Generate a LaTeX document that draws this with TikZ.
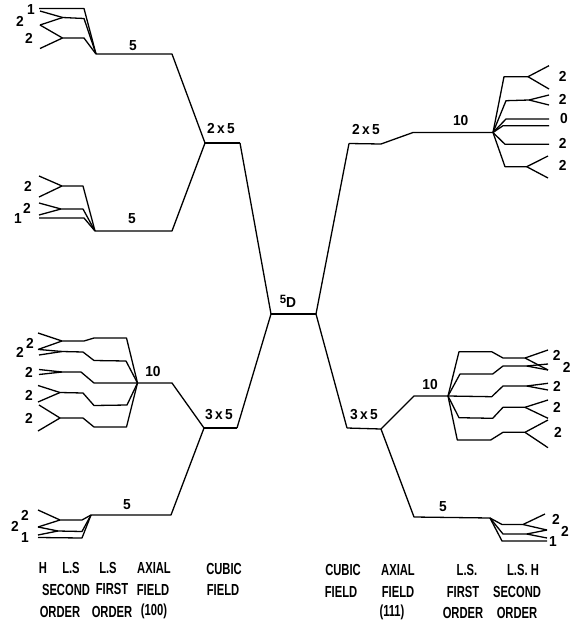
\documentclass[tikz,border=0pt]{standalone}
\usepackage{fontspec}
\usepackage{tikz}
\newfontfamily\handfont[FakeStretch=0.7]{Liberation Sans Bold}
\newfontfamily\numfont[FakeStretch=0.95]{Liberation Sans Bold}

\begin{document}
\begin{tikzpicture}[
    x=1pt, y=-1pt,
    level/.style={line width=1.3pt, black, line join=round},
    num/.style={inner sep=0pt, font=\numfont\fontsize{14.5}{14.5}\selectfont},
    captext/.style={inner sep=0pt, font=\handfont\fontsize{16}{16}\selectfont}
]
\useasboundingbox (0,0) rectangle (571,622);

% Free ion and cubic levels
\coordinate (dL) at (271,314);
\coordinate (dR) at (316,314);
\coordinate (cubATL) at (205,143);
\coordinate (cubATR) at (240,143);
\coordinate (cubBTL) at (349,143.5);
\coordinate (cubBTR) at (381,144);
\coordinate (cubALL) at (204,428);
\coordinate (cubALR) at (237,428);
\coordinate (cubBLL) at (347,428);
\coordinate (cubBLR) at (381,429);

% Axial levels and the fan points
\coordinate (axTLa) at (172,54);
\coordinate (fanTL) at (96,54);
\coordinate (axTLb) at (172,231);
\coordinate (fanML) at (95,231);
\coordinate (axLLa) at (172,383);
\coordinate (fanLL) at (137.5,383);
\coordinate (axLLb) at (171,515);
\coordinate (fanBL) at (91,515);
\coordinate (axTR) at (413,132.5);
\coordinate (fanTR) at (493,132.5);
\coordinate (axLRa) at (414,396);
\coordinate (fanLR) at (448,396);
\coordinate (axLRb) at (414,517);
\coordinate (fanBR) at (490,518);

% Main tree
\draw[level] (dL) -- (dR);
\draw[level] (cubATR) -- (dL);
\draw[level] (cubALR) -- (dL);
\draw[level] (cubBTL) -- (dR);
\draw[level] (cubBLL) -- (dR);
\draw[level] (cubATL) -- (cubATR);
\draw[level] (cubBTL) -- (cubBTR);
\draw[level] (cubALL) -- (cubALR);
\draw[level] (cubBLL) -- (cubBLR);
\draw[level] (fanTL) -- (axTLa) -- (cubATL);
\draw[level] (fanML) -- (axTLb) -- (cubATL);
\draw[level] (fanLL) -- (axLLa) -- (cubALL);
\draw[level] (fanBL) -- (axLLb) -- (cubALL);
\draw[level] (cubBTR) -- (axTR) -- (fanTR);
\draw[level] (cubBLR) -- (axLRa) -- (fanLR);
\draw[level] (cubBLR) -- (axLRb) -- (fanBR);

% Fans: three knees, stem end, upper leaf, lower leaf
\foreach \n/\f/\ka/\kb/\ma/\mb/\ja/\jb/\sa/\sb/\ua/\ub/\da/\db in {
    a1/fanTL/84/8.5/84/8.5/84/8.5/84/8.5/39/8.5/39/8.5,
    a2/fanTL/84/18.5/84/18.5/84/18.5/62.7/17.5/40/11/40/25,
    a3/fanTL/84/38/84/38/84/38/62.5/38/40/25/40/48.5,
    b1/fanML/83/186/83/186/83/186/62/186/39/176/39/197,
    b2/fanML/83/209/83/209/83/209/61/209/39/203/39/215,
    b3/fanML/84/218/84/218/84/218/39/218/39/218/39/218,
    c1/fanLL/126.5/338/94/338/84/341/62/341/38/333/38/349.5,
    c2/fanLL/126/361/94/360.5/83/352/62/351.5/39/349.5/39/355,
    c3/fanLL/94/383/94/383/81/372/62/372/39/369.5/39/374.5,
    c4/fanLL/127/405/94/405.5/83/393/60/392.5/38/385.5/38/402,
    c5/fanLL/126.5/427/94/427/83/418/60/418/39/405/38/431,
    d1/fanBL/82/520/82/520/82/520/60/520/38/510/38/527,
    d2/fanBL/82/531.5/82/531.5/82/531.5/58/531/38/527/38/535,
    d3/fanBL/82/538/82/538/82/538/38/537.5/38/537.5/38/537.5,
    e1/fanTR/504/76.7/504/76.7/504/76.7/528/76.7/549/65.7/549/89,
    e2/fanTR/506/100.7/506/100.7/506/100.7/529/100/549/95/549/105,
    e3/fanTR/506/119/506/119/506/119/549/119/549/119/549/119,
    e4/fanTR/503/125.7/503/125.7/503/125.7/549/125.7/549/125.7/549/125.7,
    e5/fanTR/505/144.3/505/144.3/505/144.3/549/144.3/549/144.3/549/144.3,
    e6/fanTR/505/166.7/505/166.7/505/166.7/526.7/166.7/548/156/548/178,
    f1/fanLR/459/351.7/491.7/351.7/503/358/525/358/548/350/548/370,
    f2/fanLR/460/374/492.7/374/503/366/526.7/366/548/364/548/370,
    f3/fanLR/491.7/396.7/491.7/396.7/503/386/526.7/386/548/383.3/548/390,
    f4/fanLR/459/417.7/492.7/418.3/503/407.3/525/407.3/548/400/548/418.3,
    f5/fanLR/457.3/440/490.7/440/503/432.3/525/432.3/548/420/548/447.7,
    g1/fanBR/502/524.5/502/524.5/502/524.5/523/524.5/545/514/547/530,
    g2/fanBR/503/534/503/534/503/534/526.7/534/547/530/547/538,
    g3/fanBR/502/541/502/541/502/541/547/541/547/541/547/541}
{
    \coordinate (\n k) at (\ka,\kb);
    \coordinate (\n m) at (\ma,\mb);
    \coordinate (\n j) at (\ja,\jb);
    \coordinate (\n s) at (\sa,\sb);
    \coordinate (\n u) at (\ua,\ub);
    \coordinate (\n d) at (\da,\db);
    \draw[level] (\f) -- (\n k) -- (\n m) -- (\n j) -- (\n s) -- (\n u);
    \draw[level] (\n s) -- (\n d);
}

% Level labels
\node[num] (dLabel) at (288,301.5) {\raisebox{4pt}{\fontsize{12}{12}\selectfont 5}D};
\node[num] (cubATLabel) at (221,129) {2\,x\,5};
\node[num] (cubBTLabel) at (366,130) {2\,x\,5};
\node[num] (cubLLabel) at (219,415) {3\,x\,5};
\node[num] (cubRLabel) at (364,415) {3\,x\,5};
\node[num] (axTLaLabel) at (133,46) {5};
\node[num] (axTLbLabel) at (132,219) {5};
\node[num] (axLLaLabel) at (153,372) {10};
\node[num] (axLLbLabel) at (127,505) {5};
\node[num] (axTRLabel) at (460.7,121) {10};
\node[num] (axLRaLabel) at (430,385) {10};
\node[num] (axLRbLabel) at (443,507) {5};

% Multiplicities on the left
\node[num] (na1) at (31,10) {1};
\node[num] (na2) at (20,21) {2};
\node[num] (na3) at (29,38) {2};
\node[num] (nb1) at (28,186) {2};
\node[num] (nb2) at (27,208) {2};
\node[num] (nb3) at (18,219) {1};
\node[num] (nc1) at (30,343) {2};
\node[num] (nc2) at (20,352) {2};
\node[num] (nc3) at (29,372) {2};
\node[num] (nc4) at (29,395) {2};
\node[num] (nc5) at (29,418) {2};
\node[num] (nd1) at (25,515) {2};
\node[num] (nd2) at (15,526) {2};
\node[num] (nd3) at (25,538) {1};

% Multiplicities on the right
\node[num] (ne1) at (562.7,76.7) {2};
\node[num] (ne2) at (562.7,99) {2};
\node[num] (ne3) at (564,119) {0};
\node[num] (ne4) at (562.7,143) {2};
\node[num] (ne5) at (562.7,165) {2};
\node[num] (nf1) at (556.7,355) {2};
\node[num] (nf2) at (566.7,367) {2};
\node[num] (nf3) at (557,386.7) {2};
\node[num] (nf4) at (557,407) {2};
\node[num] (nf5) at (558,432.7) {2};
\node[num] (ng1) at (556,519) {2};
\node[num] (ng2) at (565,531) {2};
\node[num] (ng3) at (553,541.7) {1};

% Column captions, left
\node[captext] (capH) at (43,568) {H};
\node[captext] (capLSa) at (71,568) {L.S};
\node[captext] (capLSb) at (108,568) {L.S};
\node[captext] (capAxA) at (154,568) {AXIAL};
\node[captext] (capCuA) at (224,569) {CUBIC};
\node[captext] (capSecA) at (66,590) {SECOND};
\node[captext] (capFirA) at (112,589) {FIRST};
\node[captext] (capFiA) at (153,590) {FIELD};
\node[captext] (capFiB) at (223,590) {FIELD};
\node[captext] (capOrA) at (60,611.5) {ORDER};
\node[captext] (capOrB) at (112,611.5) {ORDER};
\node[captext] (capDirA) at (154,611.5) {(100)};

% Column captions, right
\node[captext] (capCuB) at (343,570) {CUBIC};
\node[captext] (capAxB) at (398,570) {AXIAL};
\node[captext] (capLSc) at (467,570) {L.S.};
\node[captext] (capLSd) at (523,570) {L.S. H};
\node[captext] (capFiC) at (341,591.5) {FIELD};
\node[captext] (capFiD) at (398,592) {FIELD};
\node[captext] (capFirB) at (463,591.5) {FIRST};
\node[captext] (capSecB) at (517,592) {SECOND};
\node[captext] (capDirB) at (392,612.5) {(111)};
\node[captext] (capOrC) at (463,613) {ORDER};
\node[captext] (capOrD) at (517,613) {ORDER};

\end{tikzpicture}
\end{document}
